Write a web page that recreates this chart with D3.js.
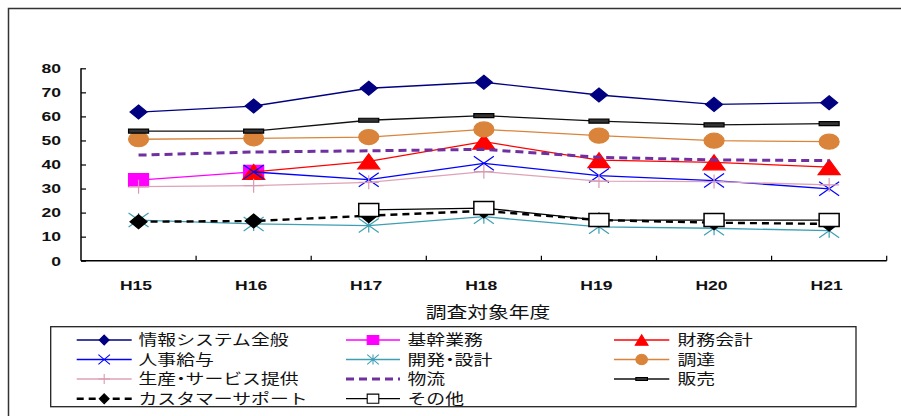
<!DOCTYPE html>
<html>
<head>
<meta charset="utf-8">
<script src="https://cdn.jsdelivr.net/npm/d3@7"></script>
<style>
  body { margin: 0; background: #fff; }
  svg { display: block; }
  text { font-family: "Liberation Sans", "Noto Sans CJK JP", sans-serif; }
  .half { font-feature-settings: "halt" 1; }
</style>
</head>
<body>
<svg id="chart" width="901" height="416"></svg>
<script>
"use strict";

var categories = ["H15", "H16", "H17", "H18", "H19", "H20", "H21"];
var yTicks = [0, 10, 20, 30, 40, 50, 60, 70, 80];

var johoSystem = [61.8, 64.3, 71.7, 74.2, 68.9, 65.0, 65.7];
var kikanGyomu = [33.5, 36.9, null, null, null, null, null];
var zaimuKaikei = [null, 36.9, 41.3, 49.5, 41.8, 40.9, 38.9];
var jinjiKyuyo = [null, 36.9, 33.7, 40.5, 35.4, 33.3, 29.9];
var kaihatsuSekkei = [16.9, 15.3, 14.6, 18.3, 14.1, 13.5, 12.5];
var chotatsu = [50.5, 50.9, 51.4, 54.6, 52.0, 49.9, 49.5];
var seisanService = [30.8, 31.2, 32.6, 37.0, 33.1, 32.9, 31.5];
var butsuryu = [43.9, 45.2, 45.7, 46.3, 43.0, 41.9, 41.6];
var hanbai = [53.9, 53.9, 58.4, 60.3, 58.0, 56.5, 57.0];
var customerSupport = [16.2, 16.5, 18.7, 20.7, 16.9, 15.8, 15.3];
var sonota = [null, null, 21.1, 21.9, 16.9, 16.9, 16.9];

var series = [
  {name: "情報システム全般", values: johoSystem, color: "#000080", width: 1.3, dash: null, marker: "diamond", fill: "#000080", stroke: "#000080"},
  {name: "基幹業務", values: kikanGyomu, color: "#ff00ff", width: 1.3, dash: null, marker: "square", fill: "#ff00ff", stroke: "#ff00ff"},
  {name: "財務会計", values: zaimuKaikei, color: "#ff0000", width: 1.3, dash: null, marker: "triangle", fill: "#ff0000", stroke: "#ff0000"},
  {name: "人事給与", values: jinjiKyuyo, color: "#0000ff", width: 1.3, dash: null, marker: "x", fill: "none", stroke: "#0000ff"},
  {name: "開発・設計", values: kaihatsuSekkei, color: "#3e9fb4", width: 1.3, dash: null, marker: "asterisk", fill: "none", stroke: "#3e9fb4"},
  {name: "調達", values: chotatsu, color: "#d9843a", width: 1.3, dash: null, marker: "circle", fill: "#d9843a", stroke: "#d9843a"},
  {name: "生産・サービス提供", values: seisanService, color: "#dea2b8", width: 1.3, dash: null, marker: "plus", fill: "none", stroke: "#d99ab2"},
  {name: "物流", values: butsuryu, color: "#7030a0", width: 3, dash: "8,5", marker: null},
  {name: "販売", values: hanbai, color: "#111111", width: 1.3, dash: null, marker: "bar", fill: "#333333", stroke: "#000000"},
  {name: "カスタマーサポート", values: customerSupport, color: "#000000", width: 2.4, dash: "7,5", marker: "diamond", fill: "#000000", stroke: "#000000"},
  {name: "その他", values: sonota, color: "#000000", width: 1.3, dash: null, marker: "square", fill: "#ffffff", stroke: "#000000"}
];

// the original text is drawn wide, so every label is stretched sideways
var stretch = 1.3;

var svg = d3.select("#chart");

// outer chart frame
svg.append("rect")
  .attr("x", 8.5).attr("y", 8.5)
  .attr("width", 900).attr("height", 420)
  .style("fill", "none")
  .style("stroke", "#333")
  .style("stroke-width", 1.5);

var x = d3.scaleBand().domain(categories).range([81, 886.7]);
var y = d3.scaleLinear().domain([0, 80]).range([260.7, 68.3]);

function cx(i) { return x(categories[i]) + x.bandwidth() / 2; }

/**
 * Path of a marker centred on 0,0, w and h are the full width and height.
 */
function markerPath(type, w, h) {
  var a = w / 2, b = h / 2;
  if (type == "diamond") return "M0," + (-b) + "L" + a + ",0L0," + b + "L" + (-a) + ",0Z";
  if (type == "square" || type == "bar") return "M" + (-a) + "," + (-b) + "H" + a + "V" + b + "H" + (-a) + "Z";
  if (type == "triangle") return "M0," + (-b) + "L" + a + "," + b + "H" + (-a) + "Z";
  if (type == "circle") return "M" + (-a) + ",0A" + a + "," + b + " 0 1 0 " + a + ",0A" + a + "," + b + " 0 1 0 " + (-a) + ",0Z";
  if (type == "x") return "M" + (-a) + "," + (-b) + "L" + a + "," + b + "M" + (-a) + "," + b + "L" + a + "," + (-b);
  if (type == "plus") return "M" + (-a) + ",0H" + a + "M0," + (-b) + "V" + b;
  if (type == "asterisk") return "M" + (-a) + "," + (-b) + "L" + a + "," + b + "M" + (-a) + "," + b + "L" + a + "," + (-b) + "M0," + (-b) + "V" + b;
  return "";
}

var markerSize = {
  diamond: [17, 14], square: [20, 13], triangle: [22, 15], circle: [20, 15],
  x: [20, 14], asterisk: [20, 14], plus: [20, 14], bar: [20, 4]
};

// axes
var yAxis = d3.axisLeft(y).tickValues(yTicks).tickSize(-5);
var gy = svg.append("g").attr("transform", "translate(81,0)").call(yAxis);
gy.select(".domain").attr("d", "M0," + y(80) + "V" + y(0)).style("stroke", "#000").style("stroke-width", 1.5);
gy.selectAll(".tick line").style("stroke", "#000").style("stroke-width", 1.2);
gy.selectAll("text")
  .attr("x", -20 / stretch)
  .attr("transform", "scale(" + stretch + ",1)")
  .style("font-size", "13.5px")
  .style("font-weight", "bold")
  .style("fill", "#111");

var xAxis = d3.axisBottom(x).tickSize(0).tickPadding(20);
var gx = svg.append("g").attr("transform", "translate(0," + y(0) + ")").call(xAxis);
gx.select(".domain").attr("d", "M81,0H886.7").style("stroke", "#000").style("stroke-width", 1.5);
gx.selectAll("text")
  .attr("x", -2)
  .attr("transform", "scale(" + stretch + ",1)")
  .style("font-size", "13.5px")
  .style("font-weight", "bold")
  .style("fill", "#111");

// category boundary ticks
var bounds = categories.map(function(c) { return x(c); }).concat([x.range()[1]]);
gx.selectAll(".bound")
  .data(bounds.slice(1))
  .enter()
  .append("line")
  .attr("x1", function(d) { return d; })
  .attr("x2", function(d) { return d; })
  .attr("y1", 0)
  .attr("y2", -5)
  .style("stroke", "#000")
  .style("stroke-width", 1.2);

svg.append("text")
  .attr("transform", "translate(488,318) scale(" + stretch + ",1)")
  .attr("text-anchor", "middle")
  .style("font-size", "16px")
  .style("fill", "#111")
  .text("調査対象年度");

// lines then markers, series in order so later ones sit on top
var line = d3.line()
  .defined(function(d) { return d != null; })
  .x(function(d, i) { return cx(i); })
  .y(function(d) { return y(d); });

series.forEach(function(s) {
  var g = svg.append("g");
  g.append("path")
    .attr("d", line(s.values))
    .style("fill", "none")
    .style("stroke", s.color)
    .style("stroke-width", s.width)
    .style("stroke-dasharray", s.dash);

  if (!s.marker) return;
  var sz = markerSize[s.marker];
  g.selectAll("path.mk")
    .data(s.values.map(function(v, i) { return {v: v, i: i}; }).filter(function(d) { return d.v != null; }))
    .enter()
    .append("path")
    .attr("class", "mk")
    .attr("transform", function(d) { return "translate(" + cx(d.i) + "," + y(d.v) + ")"; })
    .attr("d", markerPath(s.marker, sz[0], sz[1]))
    .style("fill", s.fill)
    .style("stroke", s.stroke)
    .style("stroke-width", s.marker == "square" && s.fill == "#ffffff" ? 1.5 : 1.2);
});

// legend
svg.append("rect")
  .attr("x", 50.7).attr("y", 326.7)
  .attr("width", 805.3).attr("height", 80)
  .style("fill", "#fff")
  .style("stroke", "#222")
  .style("stroke-width", 1.3);

var legendCols = [[76.7, 131.7, 138.5], [346, 400, 407.5], [614, 669.3, 677.5]];
var legendRows = [340, 359.5, 379, 398.7];

var items = svg.selectAll(".legend-item")
  .data(series)
  .enter()
  .append("g")
  .attr("class", "legend-item")
  .attr("transform", function(d, i) { return "translate(0," + legendRows[Math.floor(i / 3)] + ")"; });

items.append("line")
  .attr("x1", function(d, i) { return legendCols[i % 3][0]; })
  .attr("x2", function(d, i) { return legendCols[i % 3][1]; })
  .style("stroke", function(d) { return d.color; })
  .style("stroke-width", function(d) { return d.width; })
  .style("stroke-dasharray", function(d) { return d.dash; });

items.filter(function(d) { return d.marker; })
  .append("path")
  .attr("transform", function(d) {
    var i = series.indexOf(d);
    return "translate(" + (legendCols[i % 3][0] + legendCols[i % 3][1]) / 2 + ",0)";
  })
  .attr("d", function(d) {
    var sz = markerSize[d.marker];
    return markerPath(d.marker, sz[0] * 0.58, Math.max(sz[1] * 0.7, 3));
  })
  .style("fill", function(d) { return d.fill; })
  .style("stroke", function(d) { return d.stroke; })
  .style("stroke-width", 1.1);

var labels = items.append("text")
  .attr("transform", function(d, i) { return "translate(" + legendCols[i % 3][2] + ",0) scale(" + stretch + ",1)"; })
  .attr("dy", "0.36em")
  .style("font-size", "14.5px")
  .style("fill", "#111");

// the middle dot is narrow in the original, use the half width form for it
labels.each(function(d) {
  var t = d3.select(this);
  d.name.split("・").forEach(function(part, k) {
    if (k > 0) t.append("tspan").attr("class", "half").text("・");
    t.append("tspan").text(part);
  });
});
</script>
</body>
</html>
